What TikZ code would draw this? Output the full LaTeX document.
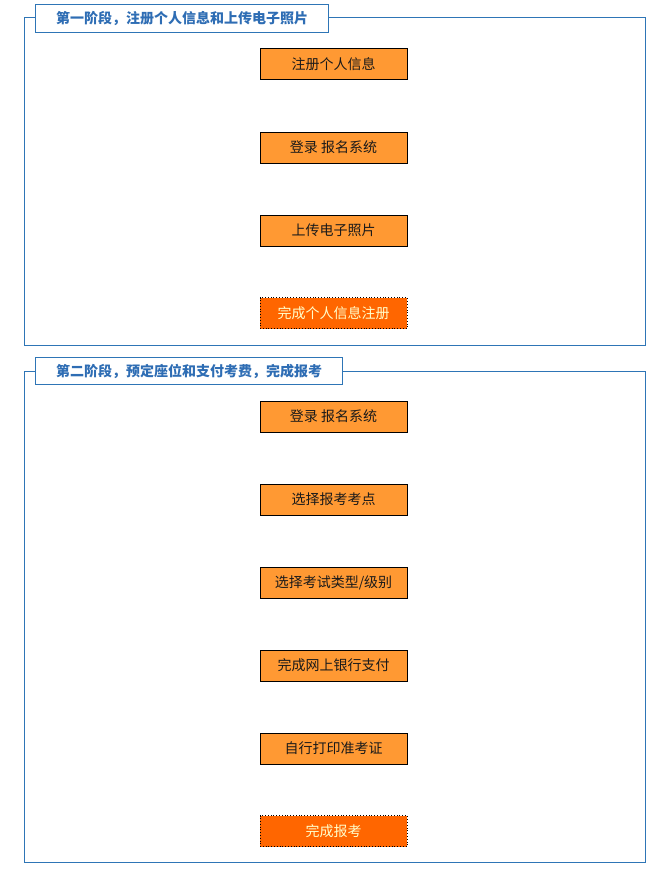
\documentclass[tikz,border=0pt]{standalone}
\usepackage{fontspec}
\setmainfont{Noto Sans CJK SC}
\usetikzlibrary{positioning}
\definecolor{frameblue}{HTML}{2E75B6}
\definecolor{titleblue}{HTML}{2E6DB4}
\definecolor{stepfill}{HTML}{FF9933}
\definecolor{endfill}{HTML}{FF6600}
\definecolor{endtext}{HTML}{FFFFCC}
\definecolor{steptext}{HTML}{1A1A1A}
\tikzset{
  frameline/.style={draw=frameblue, line width=1pt},
  titlebox/.style={draw=frameblue, line width=1pt, fill=white, text=titleblue, font=\fontsize{14}{16}\selectfont\bfseries, anchor=north west, inner sep=0pt},
  stepbox/.style={draw=black, line width=0.8pt, fill=stepfill, text=steptext, minimum width=147pt, minimum height=31pt, inner sep=0pt, font=\fontsize{14}{16}\selectfont},
  endbox/.style={stepbox, fill=endfill, text=endtext, dotted, draw=black},
}
\begin{document}
\begin{tikzpicture}[x=1pt,y=-1pt]
\useasboundingbox (0,0) rectangle (666,872);
% frame 1
\draw[frameline] (24,18) rectangle (645,345);
\node[titlebox, minimum width=293pt, minimum height=28pt] (t1) at (35,4) {第一阶段，注册个人信息和上传电子照片};
% frame 2
\draw[frameline] (24,371) rectangle (645,862);
\node[titlebox, minimum width=307pt, minimum height=27pt] (t2) at (35,357) {第二阶段，预定座位和支付考费，完成报考};
% stage 1 steps
\node[stepbox] (a1) at (333.5,64) {注册个人信息};
\node[stepbox] (a2) at (333.5,147.5) {登录 报名系统};
\node[stepbox] (a3) at (333.5,230.5) {上传电子照片};
\node[endbox] (a4) at (333.5,313) {完成个人信息注册};
% stage 2 steps
\node[stepbox] (b1) at (333.5,416.5) {登录 报名系统};
\node[stepbox] (b2) at (333.5,499.5) {选择报考考点};
\node[stepbox] (b3) at (333.5,582.5) {选择考试类型/级别};
\node[stepbox] (b4) at (333.5,665.5) {完成网上银行支付};
\node[stepbox] (b5) at (333.5,748.5) {自行打印准考证};
\node[endbox] (b6) at (333.5,831) {完成报考};
\end{tikzpicture}
\end{document}
